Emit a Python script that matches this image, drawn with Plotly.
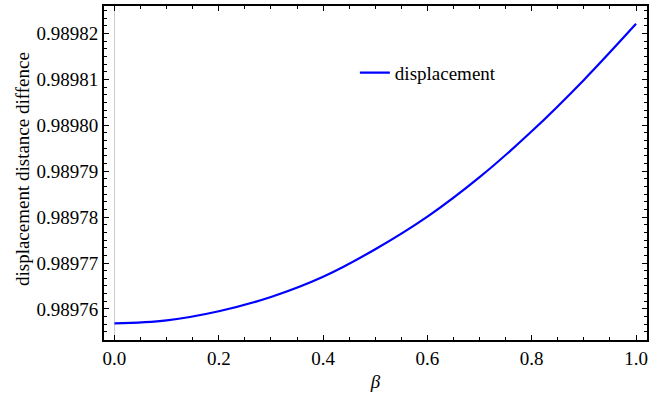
import plotly.graph_objects as go

beta = [0.0, 0.1, 0.2, 0.3, 0.4, 0.5, 0.6, 0.7, 0.8, 0.9, 1.0]
displacement = [0.98975684, 0.98975752, 0.98975950, 0.98976260, 0.98976700,
                0.98977300, 0.98978010, 0.98978870, 0.98979870, 0.98980990, 0.98982212]

FONT = "Liberation Serif"
FS = 19

fig = go.Figure()
fig.add_trace(go.Scatter(
    x=beta, y=displacement, mode="lines", name="displacement",
    line=dict(color="#0000ff", width=2.2, shape="spline"),
))

fig.update_layout(
    width=670, height=397,
    margin=dict(l=104, r=23, t=4, b=57),
    paper_bgcolor="white", plot_bgcolor="white",
    font=dict(family=FONT, size=FS, color="black"),
    showlegend=True,
    legend=dict(x=0.462, y=0.80, xanchor="left", yanchor="middle",
                bgcolor="rgba(0,0,0,0)", font=dict(family=FONT, size=FS, color="black")),
    xaxis=dict(
        range=[-0.0201, 1.021], tickvals=[0.0, 0.2, 0.4, 0.6, 0.8, 1.0], tickformat=".1f",
        ticks="inside", ticklen=5, tickwidth=1, tickcolor="black",
        minor=dict(dtick=0.05, ticks="inside", ticklen=3, tickcolor="black", showgrid=False),
        showline=True, linecolor="black", linewidth=2, mirror="ticks",
        showgrid=False, zeroline=True, zerolinecolor="#cccccc", zerolinewidth=1,
        tickfont=dict(family=FONT, size=FS, color="black"),
        title=dict(text="<i>β</i>", font=dict(family=FONT, size=FS, color="black"), standoff=7),
    ),
    yaxis=dict(
        range=[0.98975323, 0.9898260], tickvals=[0.98976, 0.98977, 0.98978, 0.98979, 0.98980, 0.98981, 0.98982],
        tickformat=".5f",
        ticks="inside", ticklen=5, tickwidth=1, tickcolor="black",
        minor=dict(tick0=0.98976, dtick=1e-5 / 6, ticks="inside", ticklen=3, tickcolor="black", showgrid=False),
        showline=True, linecolor="black", linewidth=2, mirror="ticks",
        showgrid=False, zeroline=False,
        tickfont=dict(family=FONT, size=FS, color="black"),
    ),
    annotations=[dict(
        text="displacement distance diffence", textangle=-90,
        xref="paper", yref="paper", x=(22 - 104) / 543, y=(340 - 168) / 336,
        xanchor="center", yanchor="middle", showarrow=False,
        font=dict(family=FONT, size=FS, color="black"),
    )],
)

fig.write_html("out.html")
